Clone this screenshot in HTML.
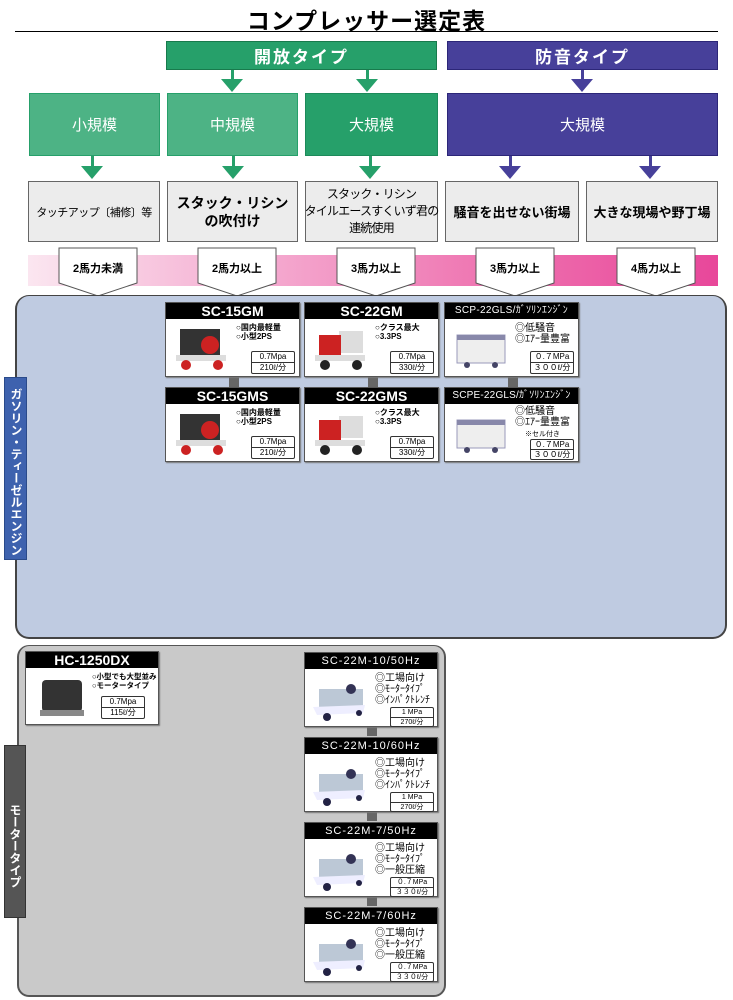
<!DOCTYPE html>
<html><head><meta charset="utf-8"><style>
*{margin:0;padding:0;box-sizing:border-box}
body{width:733px;height:1000px;background:#fff;position:relative;overflow:hidden;font-family:"Liberation Sans","Noto Sans CJK JP",sans-serif}
.a{position:absolute}
.c{display:flex;align-items:center;justify-content:center;text-align:center}
.card{position:absolute;width:135px;height:75px;background:#fff;border:1px solid #555;box-shadow:1px 1px 1px #777}
.card .h{height:16px;background:#000;color:#fff;font-weight:bold;font-size:14px;line-height:16px;text-align:center;white-space:nowrap;overflow:hidden}
.card .h.t{font-weight:normal;font-size:11px;letter-spacing:1px}
.card .b{position:absolute;left:70px;top:20px;font-size:8px;line-height:9px;font-weight:bold;white-space:nowrap}
.card .b.n{font-weight:normal;font-size:10px;line-height:11px}
.card .s{position:absolute;left:85px;top:48px;width:44px;border:1px solid #333;border-radius:2px;font-size:8px;line-height:10px;text-align:center}
.card .s div+div{border-top:1px solid #333}
.img{position:absolute;left:8px;top:22px;width:56px;height:46px}
.conn{position:absolute;width:10px;height:10px;background:#666}
.tri{position:absolute;width:0;height:0;border-left:11px solid transparent;border-right:11px solid transparent;border-top:13px solid}
.stem{position:absolute;width:3px;height:10px}
</style></head><body>
<div class="a" style="left:0;top:2px;width:733px;text-align:center;font-size:23px;font-weight:bold;letter-spacing:1px">コンプレッサー選定表</div>
<div class="a" style="left:15px;top:31px;width:703px;height:1px;background:#000"></div>

<div class="a c" style="left:166px;top:41px;width:271px;height:29px;background:#26a06a;border:1px solid #187a4c;color:#fff;font-size:17px;font-weight:bold;letter-spacing:2px">開放タイプ</div>
<div class="a c" style="left:447px;top:41px;width:271px;height:29px;background:#47409a;border:1px solid #2c2678;color:#fff;font-size:17px;font-weight:bold;letter-spacing:2px">防音タイプ</div>

<div class="stem" style="left:231px;top:70px;background:#26a06a"></div><div class="tri" style="left:221px;top:79px;border-top-color:#26a06a"></div>
<div class="stem" style="left:366px;top:70px;background:#26a06a"></div><div class="tri" style="left:356px;top:79px;border-top-color:#26a06a"></div>
<div class="stem" style="left:581px;top:70px;background:#47409a"></div><div class="tri" style="left:571px;top:79px;border-top-color:#47409a"></div>

<div class="a c" style="left:29px;top:93px;width:131px;height:63px;background:#4db385;border:1px solid #26a06a;color:#fff;font-size:15px">小規模</div>
<div class="a c" style="left:167px;top:93px;width:131px;height:63px;background:#4db385;border:1px solid #26a06a;color:#fff;font-size:15px">中規模</div>
<div class="a c" style="left:305px;top:93px;width:133px;height:63px;background:#26a06a;border:1px solid #1d8a5a;color:#fff;font-size:15px">大規模</div>
<div class="a c" style="left:447px;top:93px;width:271px;height:63px;background:#47409a;border:1px solid #2c2678;color:#fff;font-size:15px">大規模</div>

<div class="stem" style="left:91px;top:156px;background:#26a06a"></div><div class="tri" style="left:81px;top:166px;border-top-color:#26a06a"></div>
<div class="stem" style="left:232px;top:156px;background:#26a06a"></div><div class="tri" style="left:222px;top:166px;border-top-color:#26a06a"></div>
<div class="stem" style="left:369px;top:156px;background:#26a06a"></div><div class="tri" style="left:359px;top:166px;border-top-color:#26a06a"></div>
<div class="stem" style="left:509px;top:156px;background:#47409a"></div><div class="tri" style="left:499px;top:166px;border-top-color:#47409a"></div>
<div class="stem" style="left:649px;top:156px;background:#47409a"></div><div class="tri" style="left:639px;top:166px;border-top-color:#47409a"></div>

<div class="a c" style="left:28px;top:181px;width:132px;height:61px;background:#ececec;border:1px solid #666;font-size:11px;white-space:nowrap;letter-spacing:-0.5px">タッチアップ〔補修〕等</div>
<div class="a c" style="left:167px;top:181px;width:131px;height:61px;background:#ececec;border:1px solid #666;font-size:14px;font-weight:bold;line-height:18px">スタック・リシン<br>の吹付け</div>
<div class="a c" style="left:305px;top:181px;width:133px;height:61px;background:#ececec;border:1px solid #666;font-size:12px;line-height:17px;white-space:nowrap;letter-spacing:-0.8px">スタック・リシン<br>タイルエースすくいず君の<br>連続使用</div>
<div class="a c" style="left:445px;top:181px;width:134px;height:61px;background:#ececec;border:1px solid #666;font-size:13px;font-weight:bold">騒音を出せない街場</div>
<div class="a c" style="left:586px;top:181px;width:132px;height:61px;background:#ececec;border:1px solid #666;font-size:13px;font-weight:bold">大きな現場や野丁場</div>

<div class="a" style="left:28px;top:255px;width:690px;height:31px;background:linear-gradient(to right,#fbe6f0,#f4a9cf 35%,#ee6fae 70%,#e8479a)"></div>
<svg class="a" style="left:0;top:0" width="733" height="300">
<g fill="#fff" stroke="#555" stroke-width="1">
<polygon points="59,248 137,248 137,283 98,296 59,283"/>
<polygon points="198,248 276,248 276,283 237,296 198,283"/>
<polygon points="337,248 415,248 415,283 376,296 337,283"/>
<polygon points="476,248 554,248 554,283 515,296 476,283"/>
<polygon points="617,248 695,248 695,283 656,296 617,283"/>
</g>
<g font-family="Liberation Sans,Noto Sans CJK JP,sans-serif" font-size="11" font-weight="bold" text-anchor="middle">
<text x="98" y="272">2馬力未満</text><text x="237" y="272">2馬力以上</text><text x="376" y="272">3馬力以上</text><text x="515" y="272">3馬力以上</text><text x="656" y="272">4馬力以上</text>
</g></svg>

<div class="a" style="left:15px;top:295px;width:712px;height:344px;background:#bfcbe1;border:2px solid #444;border-top-width:1px;border-radius:14px"></div>
<div class="a" style="left:4px;top:377px;width:23px;height:183px;background:#3e62ae;border:1px solid #2a4a8a;color:#fff;font-size:12px;font-weight:bold;writing-mode:vertical-rl;text-align:center;line-height:21px;padding-top:6px">ガソリン・ティーゼルエンジン</div>

<div class="a" style="left:17px;top:645px;width:429px;height:352px;background:#c9c9c9;border:2px solid #555;border-top-width:1px;border-radius:12px"></div>
<div class="a" style="left:4px;top:745px;width:22px;height:173px;background:#555;border:1px solid #333;color:#fff;font-size:12px;font-weight:bold;writing-mode:vertical-rl;text-align:center;line-height:20px;padding-top:28px">モータータイプ</div>

<div class="conn" style="left:229px;top:377px"></div>
<div class="conn" style="left:368px;top:377px"></div>
<div class="conn" style="left:508px;top:377px"></div>
<div class="conn" style="left:367px;top:726px"></div>
<div class="conn" style="left:367px;top:811px"></div>
<div class="conn" style="left:367px;top:896px"></div>

<div class="card" style="left:165px;top:302px"><div class="h">SC-15GM</div>
<svg class="img" viewBox="0 0 56 46"><rect x="6" y="4" width="40" height="26" fill="#333"/><circle cx="36" cy="20" r="9" fill="#c22"/><rect x="2" y="30" width="50" height="6" fill="#ddd"/><circle cx="12" cy="40" r="5" fill="#c22"/><circle cx="44" cy="40" r="5" fill="#c22"/></svg>
<div class="b">○国内最軽量<br>○小型2PS</div><div class="s"><div>0.7Mpa</div><div>210ℓ/分</div></div></div>
<div class="card" style="left:304px;top:302px"><div class="h">SC-22GM</div>
<svg class="img" viewBox="0 0 56 46"><rect x="26" y="6" width="24" height="22" fill="#ddd"/><rect x="6" y="10" width="22" height="22" fill="#c22"/><rect x="2" y="30" width="50" height="6" fill="#ddd"/><circle cx="12" cy="40" r="5" fill="#222"/><circle cx="44" cy="40" r="5" fill="#222"/></svg>
<div class="b">○クラス最大<br>○3.3PS</div><div class="s"><div>0.7Mpa</div><div>330ℓ/分</div></div></div>
<div class="card" style="left:444px;top:302px"><div class="h t" style="font-size:10px;letter-spacing:0.3px">SCP-22GLS/ｶﾞｿﾘﾝｴﾝｼﾞﾝ</div>
<svg class="img" viewBox="0 0 56 46"><rect x="4" y="10" width="48" height="28" fill="#eee" stroke="#99b"/><rect x="4" y="10" width="48" height="5" fill="#88a"/><circle cx="14" cy="40" r="3" fill="#446"/><circle cx="42" cy="40" r="3" fill="#446"/></svg>
<div class="b n">◎低騒音<br>◎ｴｱｰ量豊富</div><div class="s"><div>０.７MPa</div><div>３００ℓ/分</div></div></div>

<div class="card" style="left:165px;top:387px"><div class="h">SC-15GMS</div>
<svg class="img" viewBox="0 0 56 46"><rect x="6" y="4" width="40" height="26" fill="#333"/><circle cx="36" cy="20" r="9" fill="#c22"/><rect x="2" y="30" width="50" height="6" fill="#ddd"/><circle cx="12" cy="40" r="5" fill="#c22"/><circle cx="44" cy="40" r="5" fill="#c22"/></svg>
<div class="b">○国内最軽量<br>○小型2PS</div><div class="s"><div>0.7Mpa</div><div>210ℓ/分</div></div></div>
<div class="card" style="left:304px;top:387px"><div class="h">SC-22GMS</div>
<svg class="img" viewBox="0 0 56 46"><rect x="26" y="6" width="24" height="22" fill="#ddd"/><rect x="6" y="10" width="22" height="22" fill="#c22"/><rect x="2" y="30" width="50" height="6" fill="#ddd"/><circle cx="12" cy="40" r="5" fill="#222"/><circle cx="44" cy="40" r="5" fill="#222"/></svg>
<div class="b">○クラス最大<br>○3.3PS</div><div class="s"><div>0.7Mpa</div><div>330ℓ/分</div></div></div>
<div class="card" style="left:444px;top:387px"><div class="h t" style="font-size:10px;letter-spacing:0.2px">SCPE-22GLS/ｶﾞｿﾘﾝｴﾝｼﾞﾝ</div>
<svg class="img" viewBox="0 0 56 46"><rect x="4" y="10" width="48" height="28" fill="#eee" stroke="#99b"/><rect x="4" y="10" width="48" height="5" fill="#88a"/><circle cx="14" cy="40" r="3" fill="#446"/><circle cx="42" cy="40" r="3" fill="#446"/></svg>
<div class="b n" style="top:18px">◎低騒音<br>◎ｴｱｰ量豊富<br><span style="font-size:7px;padding-left:10px">※セル付き</span></div><div class="s" style="top:51px;line-height:9px"><div>０.７MPa</div><div>３００ℓ/分</div></div></div>

<div class="card" style="left:25px;top:651px;width:134px;height:74px"><div class="h">HC-1250DX</div>
<svg class="img" viewBox="0 0 56 46"><rect x="8" y="6" width="40" height="32" rx="4" fill="#333"/><rect x="6" y="36" width="44" height="6" fill="#888"/></svg>
<div class="b" style="font-size:7.5px;left:66px">○小型でも大型並み<br>○モータータイプ</div><div class="s" style="left:75px;top:44px"><div>0.7Mpa</div><div>115ℓ/分</div></div></div>

<div class="card" style="left:304px;top:652px;width:134px;height:75px"><div class="h t">SC-22M-10/50Hz</div>
<svg class="img" viewBox="0 0 56 46"><rect x="6" y="14" width="44" height="20" fill="#bcc8d6"/><circle cx="38" cy="14" r="5" fill="#335"/><polygon points="0,32 52,30 50,38 4,40" fill="#eef"/><circle cx="14" cy="42" r="4" fill="#224"/><circle cx="46" cy="38" r="3" fill="#224"/></svg>
<div class="b n">◎工場向け<br>◎ﾓｰﾀｰﾀｲﾌﾟ<br>◎ｲﾝﾊﾟｸﾄﾚﾝﾁ</div><div class="s" style="top:54px;height:20px;line-height:9px;font-size:7px"><div>1 MPa</div><div>270ℓ/分</div></div></div>
<div class="card" style="left:304px;top:737px;width:134px;height:75px"><div class="h t">SC-22M-10/60Hz</div>
<svg class="img" viewBox="0 0 56 46"><rect x="6" y="14" width="44" height="20" fill="#bcc8d6"/><circle cx="38" cy="14" r="5" fill="#335"/><polygon points="0,32 52,30 50,38 4,40" fill="#eef"/><circle cx="14" cy="42" r="4" fill="#224"/><circle cx="46" cy="38" r="3" fill="#224"/></svg>
<div class="b n">◎工場向け<br>◎ﾓｰﾀｰﾀｲﾌﾟ<br>◎ｲﾝﾊﾟｸﾄﾚﾝﾁ</div><div class="s" style="top:54px;height:20px;line-height:9px;font-size:7px"><div>1 MPa</div><div>270ℓ/分</div></div></div>
<div class="card" style="left:304px;top:822px;width:134px;height:75px"><div class="h t">SC-22M-7/50Hz</div>
<svg class="img" viewBox="0 0 56 46"><rect x="6" y="14" width="44" height="20" fill="#bcc8d6"/><circle cx="38" cy="14" r="5" fill="#335"/><polygon points="0,32 52,30 50,38 4,40" fill="#eef"/><circle cx="14" cy="42" r="4" fill="#224"/><circle cx="46" cy="38" r="3" fill="#224"/></svg>
<div class="b n">◎工場向け<br>◎ﾓｰﾀｰﾀｲﾌﾟ<br>◎一般圧縮</div><div class="s" style="top:54px;height:20px;line-height:9px;font-size:7px"><div>０.７MPa</div><div>３３０ℓ/分</div></div></div>
<div class="card" style="left:304px;top:907px;width:134px;height:75px"><div class="h t">SC-22M-7/60Hz</div>
<svg class="img" viewBox="0 0 56 46"><rect x="6" y="14" width="44" height="20" fill="#bcc8d6"/><circle cx="38" cy="14" r="5" fill="#335"/><polygon points="0,32 52,30 50,38 4,40" fill="#eef"/><circle cx="14" cy="42" r="4" fill="#224"/><circle cx="46" cy="38" r="3" fill="#224"/></svg>
<div class="b n">◎工場向け<br>◎ﾓｰﾀｰﾀｲﾌﾟ<br>◎一般圧縮</div><div class="s" style="top:54px;height:20px;line-height:9px;font-size:7px"><div>０.７MPa</div><div>３３０ℓ/分</div></div></div>
</body></html>
